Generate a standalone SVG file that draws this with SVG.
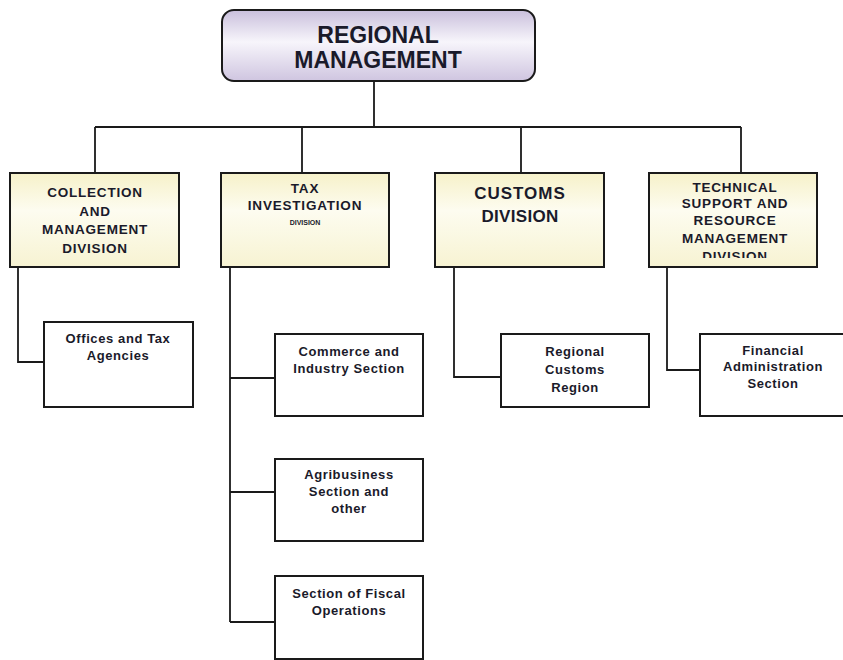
<svg xmlns="http://www.w3.org/2000/svg" width="843" height="660" viewBox="0 0 843 660">
<defs>
<linearGradient id="gTop" x1="0" y1="0" x2="0" y2="1">
<stop offset="0" stop-color="#c9bfdc"/><stop offset="0.45" stop-color="#f7f5fb"/><stop offset="1" stop-color="#cfc5e0"/>
</linearGradient>
<linearGradient id="gDiv" x1="0" y1="0" x2="0" y2="1">
<stop offset="0" stop-color="#f6f1c9"/><stop offset="0.4" stop-color="#fdfcf0"/><stop offset="1" stop-color="#f7f3d2"/>
</linearGradient>
<clipPath id="clip4"><rect x="649" y="173" width="168" height="85"/></clipPath>
</defs>
<style>
.box{stroke:#1a1a1a;stroke-width:2}
.div{fill:url(#gDiv)}
.sub{fill:#ffffff}
.ln{fill:none;stroke:#1a1a1a;stroke-width:1.8}
text{font-family:"Liberation Sans",Arial,sans-serif;font-weight:bold;fill:#1a1a2a;text-anchor:middle}
.t1{font-size:23px}
.td{font-size:13.5px;letter-spacing:0.8px}
.ts{font-size:13px;letter-spacing:0.6px}
</style>
<rect width="843" height="660" fill="#ffffff"/>
<g id="connectors">
<path class="ln" d="M374 81V127M95 127H741M95 127V173M302 127V173M521 127V173M741 127V173"/>
<path class="ln" d="M18 267V362H44"/>
<path class="ln" d="M230 267V622M230 378H275M230 492H275M230 622H275"/>
<path class="ln" d="M454 267V377H501"/>
<path class="ln" d="M667 267V370H700"/>
</g>
<g id="regional-management">
<rect class="box" x="222" y="10" width="313" height="71" rx="12" fill="url(#gTop)"/>
<text class="t1" x="378" y="43">REGIONAL</text>
<text class="t1" x="378" y="68">MANAGEMENT</text>
</g>
<g id="collection-division">
<rect class="box div" x="10" y="173" width="169" height="94"/>
<text class="td" x="95" y="197">COLLECTION</text>
<text class="td" x="95" y="216">AND</text>
<text class="td" x="95" y="234">MANAGEMENT</text>
<text class="td" x="95" y="253">DIVISION</text>
</g>
<g id="tax-investigation-division">
<rect class="box div" x="221" y="173" width="168" height="94"/>
<text class="td" x="305" y="193">TAX</text>
<text class="td" x="305" y="210">INVESTIGATION</text>
<text x="305" y="225" style="font-size:7px">DIVISION</text>
</g>
<g id="customs-division">
<rect class="box div" x="435" y="173" width="169" height="94"/>
<text x="520" y="199" style="font-size:17px;letter-spacing:1px">CUSTOMS</text>
<text x="520" y="222" style="font-size:17px;letter-spacing:0.3px">DIVISION</text>
</g>
<g id="technical-division">
<rect class="box div" x="649" y="173" width="168" height="94"/>
<g clip-path="url(#clip4)">
<text class="td" x="735" y="192">TECHNICAL</text>
<text class="td" x="735" y="208">SUPPORT AND</text>
<text class="td" x="735" y="225">RESOURCE</text>
<text class="td" x="735" y="243">MANAGEMENT</text>
<text class="td" x="735" y="261">DIVISION</text>
</g>
</g>
<g id="offices">
<rect class="box sub" x="44" y="322" width="149" height="85"/>
<text class="ts" x="118" y="343">Offices and Tax</text>
<text class="ts" x="118" y="360">Agencies</text>
</g>
<g id="commerce">
<rect class="box sub" x="275" y="334" width="148" height="82"/>
<text class="ts" x="349" y="356">Commerce and</text>
<text class="ts" x="349" y="373">Industry Section</text>
</g>
<g id="agribusiness">
<rect class="box sub" x="275" y="459" width="148" height="82"/>
<text class="ts" x="349" y="479">Agribusiness</text>
<text class="ts" x="349" y="496">Section and</text>
<text class="ts" x="349" y="513">other</text>
</g>
<g id="fiscal">
<rect class="box sub" x="275" y="576" width="148" height="83"/>
<text class="ts" x="349" y="598">Section of Fiscal</text>
<text class="ts" x="349" y="615">Operations</text>
</g>
<g id="customs-region">
<rect class="box sub" x="501" y="334" width="148" height="73"/>
<text class="ts" x="575" y="356">Regional</text>
<text class="ts" x="575" y="374">Customs</text>
<text class="ts" x="575" y="392">Region</text>
</g>
<g id="financial">
<rect class="box sub" x="700" y="334" width="150" height="82"/>
<text class="ts" x="773" y="355">Financial</text>
<text class="ts" x="773" y="371">Administration</text>
<text class="ts" x="773" y="388">Section</text>
</g>
</svg>
